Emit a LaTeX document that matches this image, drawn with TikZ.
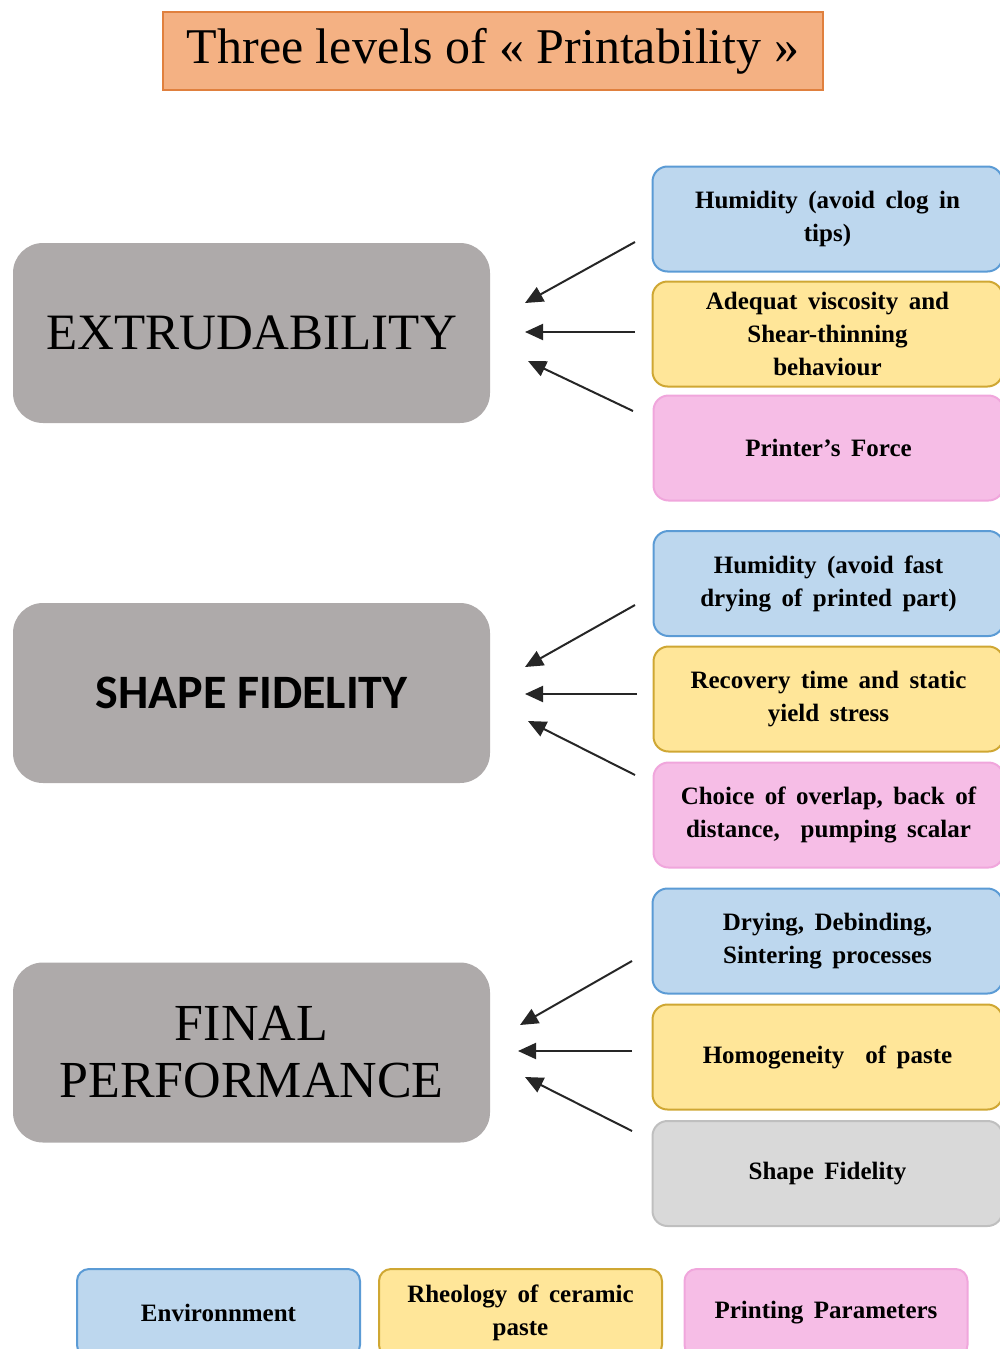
\documentclass[tikz,border=0pt]{standalone}
\usepackage{fontspec}
\setmainfont{Liberation Serif}
\newfontfamily\carlito{Carlito}
\usetikzlibrary{arrows.meta}
\newcommand\rboxfont{\bfseries\fontsize{25}{33}\selectfont\spaceskip=0.42em plus 0.1em\relax}
\definecolor{titlefill}{HTML}{F4B183}
\definecolor{titleborder}{HTML}{E0803E}
\definecolor{maingrey}{HTML}{AEAAAA}
\definecolor{bluefill}{HTML}{BDD7EE}
\definecolor{blueborder}{HTML}{5B9BD5}
\definecolor{yellowfill}{HTML}{FFE699}
\definecolor{yellowborder}{HTML}{CFA733}
\definecolor{pinkfill}{HTML}{F6BDE6}
\definecolor{pinkborder}{HTML}{F0A6DC}
\definecolor{greyfill}{HTML}{D9D9D9}
\definecolor{greyborder}{HTML}{BFBFBF}
\begin{document}
\begin{tikzpicture}[x=1pt,y=-1pt,
  titlebox/.style={draw=titleborder, fill=titlefill, line width=1.5pt, minimum width=660, minimum height=78, inner sep=0pt, font=\fontsize{50}{58}\selectfont},
  mainbox/.style={fill=maingrey, rounded corners=30pt, minimum width=477, minimum height=180, inner sep=0pt, align=center},
  rbox/.style={rounded corners=15pt, line width=2pt, minimum width=350, minimum height=105, inner sep=0pt, align=center, font=\rboxfont},
  envbox/.style={rbox, fill=bluefill, draw=blueborder},
  rheobox/.style={rbox, fill=yellowfill, draw=yellowborder},
  prmbox/.style={rbox, fill=pinkfill, draw=pinkborder},
  fidbox/.style={rbox, fill=greyfill, draw=greyborder},
  legendbox/.style={minimum width=283, minimum height=88, rounded corners=12pt, anchor=north},
  arr/.style={-{Triangle[length=18pt,width=16pt]}, line width=2pt, draw=black!85}
]
\useasboundingbox (0,0) rectangle (1000,1349);

\node[titlebox] (title) at (493,51) {Three levels of « Printability »};

\node[mainbox, font=\fontsize{51}{58}\selectfont] (extr) at (251.5,333) {EXTRUDABILITY};
\node[mainbox, font=\carlito\bfseries\fontsize{48}{50}\selectfont] (shape) at (251.5,693) {SHAPE FIDELITY};
\node[mainbox, font=\fontsize{52}{57}\selectfont] (final) at (251.5,1052.5) {FINAL\\PERFORMANCE};

\node[envbox] (e1) at (827.5,219) {Humidity (avoid clog in\\tips)};
\node[rheobox] (r1) at (827.5,334) {Adequat viscosity and\\Shear-thinning\\behaviour};
\node[prmbox] (p1) at (828.5,448) {Printer’s Force};

\node[envbox] (e2) at (828.5,583.5) {Humidity (avoid fast\\drying of printed part)};
\node[rheobox] (r2) at (828.5,699) {Recovery time and static\\yield stress};
\node[prmbox] (p2) at (828.5,815) {Choice of overlap, back of\\distance,\ \ pumping scalar};

\node[envbox] (e3) at (827.5,941) {Drying, Debinding,\\Sintering processes};
\node[rheobox] (r3) at (827.5,1057) {Homogeneity\ \ of paste};
\node[fidbox] (f3) at (827.5,1173.5) {Shape Fidelity};

\node[envbox, legendbox] (le) at (218.5,1268) {Environnment};
\node[rheobox, legendbox] (lr) at (520.5,1268) {Rheology of ceramic\\paste};
\node[prmbox, legendbox] (lp) at (826,1268) {Printing Parameters};

% arrow end points
\coordinate (a1s) at (635,242);  \coordinate (a1e) at (525,303);
\coordinate (a2s) at (635,332);  \coordinate (a2e) at (525,332);
\coordinate (a3s) at (633,411);  \coordinate (a3e) at (528,361);
\coordinate (b1s) at (635,605);  \coordinate (b1e) at (525,667);
\coordinate (b2s) at (637,694);  \coordinate (b2e) at (525,694);
\coordinate (b3s) at (635,775);  \coordinate (b3e) at (528,721);
\coordinate (c1s) at (632,961);  \coordinate (c1e) at (520,1025);
\coordinate (c2s) at (632,1051); \coordinate (c2e) at (518,1051);
\coordinate (c3s) at (632,1131); \coordinate (c3e) at (525,1077);

\foreach \a in {a1,a2,a3,b1,b2,b3,c1,c2,c3}
  \draw[arr] (\a s) -- (\a e);
\end{tikzpicture}
\end{document}
